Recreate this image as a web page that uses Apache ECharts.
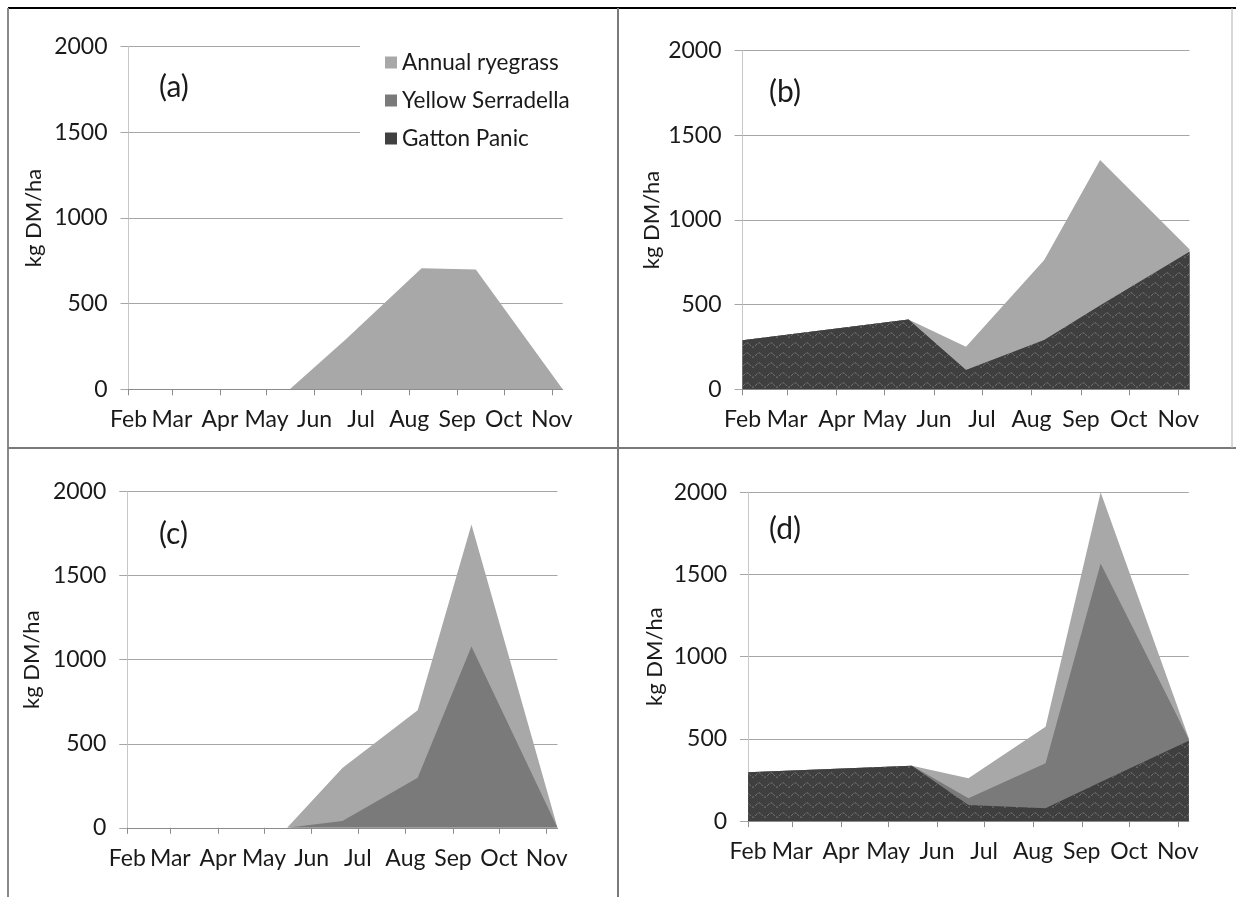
<!DOCTYPE html>
<html><head><meta charset="utf-8">
<script src="https://cdn.jsdelivr.net/npm/echarts@6/dist/echarts.min.js"></script>
<style>html,body{margin:0;padding:0;background:#fff}#c{width:1236px;height:897px}</style>
</head><body><div id="c"></div>
<script>
// ---- data ----
const monthStarts = ['2013-02-01','2013-03-01','2013-04-01','2013-05-01','2013-06-01','2013-07-01','2013-08-01','2013-09-01','2013-10-01','2013-11-01'];
const monthLabels = ['Feb','Mar','Apr','May','Jun','Jul','Aug','Sep','Oct','Nov'];
const sampleDates = ['2013-02-01','2013-05-16','2013-06-21','2013-08-09','2013-09-13','2013-11-08'];
const yTicks = [0, 500, 1000, 1500, 2000];
const seriesNames = ['Annual ryegrass','Yellow Serradella','Gatton Panic'];
const panelLabels = ['(a)','(b)','(c)','(d)'];

// panel (a)
const aGatton     = [0, 0, 0, 0, 0, 0];
const aSerradella = [0, 0, 0, 0, 0, 0];
const aRyegrass   = [0, 0, 291, 706, 700, 0];
// panel (b)
const bGatton     = [289, 413, 114, 291, 495, 813];
const bSerradella = [0, 0, 0, 0, 0, 0];
const bRyegrass   = [0, 0, 138, 473, 859, 14];
// panel (c)
const cGatton     = [0, 0, 0, 0, 0, 0];
const cSerradella = [0, 0, 40, 297, 1078, 0];
const cRyegrass   = [0, 0, 316, 403, 726, 0];
// panel (d)
const dGatton     = [297, 337, 98, 78, 238, 488];
const dSerradella = [0, 0, 41, 274, 1329, 10];
const dRyegrass   = [0, 0, 122, 222, 433, 6];

const panels = [
  {g: aGatton, s: aSerradella, r: aRyegrass},
  {g: bGatton, s: bSerradella, r: bRyegrass},
  {g: cGatton, s: cSerradella, r: cRyegrass},
  {g: dGatton, s: dSerradella, r: dRyegrass}
];

// ---- helpers ----
function ts(s){ const p = s.split('-').map(Number); return new Date(p[0], p[1]-1, p[2]).getTime(); }
const tickVals = monthStarts.map(ts);
function pair(vals){ return sampleDates.map((d,i)=>[ts(d), vals[i]]); }
// cumulative (stacked) tops, so each layer's area is drawn from the axis and overlaps the ones below
function cum(...arrs){ return arrs[0].map((_,i)=>arrs.reduce((s,a)=>s+a[i],0)); }

// pattern for Gatton Panic
function makePattern(){
  const c = document.createElement('canvas');
  c.width = 12; c.height = 10;
  const x = c.getContext('2d');
  x.fillStyle = '#3f3f3f'; x.fillRect(0,0,12,10);
  x.strokeStyle = '#858585'; x.lineWidth = 1;
  x.setLineDash([2,1.5]);
  x.beginPath();
  for (let i=0;i<=12;i+=0.5){
    const y = 5 - 2.2*Math.sin(Math.PI*2*i/12);
    if (i===0) x.moveTo(i,y); else x.lineTo(i,y);
  }
  x.stroke();
  return c;
}
const pat = makePattern();

const FONT = 'Lato, "Open Sans", sans-serif';
const TXT = '#1a1a1a';

const gridBoxes = [
  {left:128.5, top:46.7, width:434.2, height:342.6},
  {left:742.5, top:50.7, width:447.0, height:338.6},
  {left:127.3, top:491.6, width:430.2, height:336.2},
  {left:748.1, top:492.2, width:440.7, height:328.9}
];
const nameGaps = [84, 80, 84, 82];
const labelPos = [[159,72],[769,77],[159,519],[769,514]];

const grids = [], xAxes = [], yAxes = [], series = [];
gridBoxes.forEach((b,i)=>{
  grids.push(Object.assign({containLabel:false}, b));
  const xmin = ts(sampleDates[0]), xmax = ts(sampleDates[sampleDates.length-1]);
  // data axis (time, hidden)
  xAxes.push({
    type:'time', gridIndex:i, position:'bottom', min:xmin, max:xmax,
    axisLine:{show:false}, axisTick:{show:false}, axisLabel:{show:false}, splitLine:{show:false}
  });
  // display axis (month ticks)
  xAxes.push({
    type:'value', gridIndex:i, position:'bottom', min:xmin, max:xmax,
    axisLine:{show:true, lineStyle:{color:'#8c8c8c', width:1}},
    axisTick:{show:true, customValues: tickVals, length:6, lineStyle:{color:'#8c8c8c'}},
    axisLabel:{customValues: tickVals, margin:19, fontSize:23, fontFamily:FONT, color:TXT,
      formatter:(v)=>{ const k = tickVals.indexOf(v); return k>=0 ? monthLabels[k] : ''; }},
    splitLine:{show:false}, minorTick:{show:false}
  });
  yAxes.push({
    type:'value', gridIndex:i,
    min: yTicks[0], max: yTicks[yTicks.length-1], interval: yTicks[1]-yTicks[0],
    name:'kg DM/ha', nameLocation:'middle', nameGap:nameGaps[i],
    nameTextStyle:{fontSize:22, fontFamily:FONT, color:TXT},
    axisLine:{show:true, lineStyle:{color:'#c8c8c8', width:1}},
    axisTick:{show:true, length:8, lineStyle:{color:'#a6a6a6'}},
    axisLabel:{margin:21, fontSize:23, fontFamily:FONT, color:TXT, formatter:(v)=>String(v)},
    splitLine:{show:true, lineStyle:{color:'#a6a6a6', width:1}}
  });
  const p = panels[i];
  // drawn back to front: total (ryegrass top), serradella top, gatton
  const defs = [
    {name:seriesNames[0], vals:cum(p.g, p.s, p.r), color:'#a8a8a8', area:'#a8a8a8'},
    {name:seriesNames[1], vals:cum(p.g, p.s),      color:'#7a7a7a', area:'#7a7a7a'},
    {name:seriesNames[2], vals:cum(p.g),           color:'#404040', area:{image: pat, repeat:'repeat'}}
  ];
  defs.forEach((d,k)=>{
    series.push({
      type:'line', name:d.name, xAxisIndex:2*i, yAxisIndex:i, z:2+k*0.01,
      data: pair(d.vals), showSymbol:false, symbol:'none', silent:true,
      itemStyle:{color:d.color}, lineStyle:{width:0},
      areaStyle:{color:d.area, opacity:1}, animation:false
    });
  });
});

const graphics = [
  {type:'line', shape:{x1:8,y1:8,x2:1236,y2:8}, style:{stroke:'#000', lineWidth:2}},
  {type:'line', shape:{x1:8,y1:8,x2:8,y2:897}, style:{stroke:'#8a8a8a', lineWidth:2}},
  {type:'line', shape:{x1:618,y1:8,x2:618,y2:897}, style:{stroke:'#7a7a7a', lineWidth:2}},
  {type:'line', shape:{x1:8,y1:448,x2:1236,y2:448}, style:{stroke:'#7a7a7a', lineWidth:2}},
  {type:'line', shape:{x1:1232,y1:8,x2:1232,y2:448}, style:{stroke:'#b0b0b0', lineWidth:1}}
];
panelLabels.forEach((t,i)=>{
  graphics.push({type:'text', left:labelPos[i][0], top:labelPos[i][1], z:10,
    style:{text:t, fontSize:30, fontFamily:FONT, fill:TXT}});
});

const chart = echarts.init(document.getElementById('c'), null, {renderer:'canvas'});
chart.setOption({
  animation:false,
  backgroundColor:'#fff',
  grid: grids, xAxis: xAxes, yAxis: yAxes, series: series,
  legend:{
    data:[
      {name:seriesNames[0], itemStyle:{color:'#a8a8a8'}},
      {name:seriesNames[1], itemStyle:{color:'#7a7a7a'}},
      {name:seriesNames[2], itemStyle:{color:'#404040'}}
    ],
    orient:'vertical', left:360, top:38, padding:[13,8,14,25],
    backgroundColor:'#fff', icon:'rect', itemWidth:12, itemHeight:12, itemGap:15,
    selectedMode:false,
    textStyle:{fontSize:22.5, lineHeight:22, fontFamily:FONT, color:TXT}
  },
  graphic: graphics
});
</script></body></html>
